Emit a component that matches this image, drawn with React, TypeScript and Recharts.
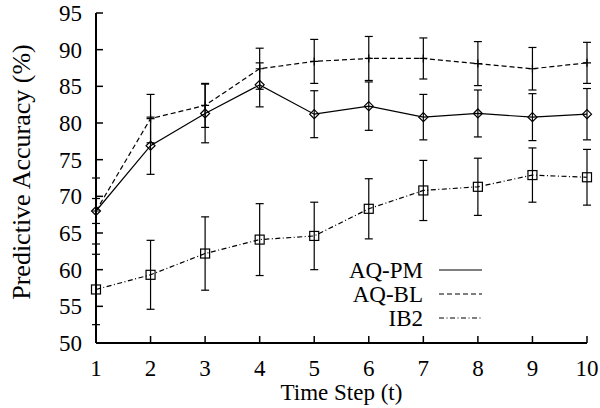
import React from "react"
import { LineChart, Line, XAxis, YAxis, ErrorBar } from "recharts"

const FONT = "'Liberation Serif', 'Times New Roman', serif"

const steps = [1, 2, 3, 4, 5, 6, 7, 8, 9, 10]
const yTicks = [50, 55, 60, 65, 70, 75, 80, 85, 90, 95]

const aqPm = [68, 76.9, 81.3, 85.2, 81.2, 82.3, 80.8, 81.3, 80.8, 81.2]
const aqPmErr = [4.5, 3.9, 4.0, 3.0, 3.2, 3.3, 3.1, 3.2, 3.2, 3.5]
const aqBl = [68, 80.6, 82.4, 87.4, 88.4, 88.8, 88.8, 88.1, 87.4, 88.2]
const aqBlErr = [1.7, 3.3, 3.0, 2.8, 3.0, 3.0, 2.8, 3.0, 2.9, 2.8]
const ib2 = [57.3, 59.3, 62.2, 64.1, 64.6, 68.3, 70.8, 71.3, 72.9, 72.6]
const ib2Err = [4.8, 4.7, 5.0, 4.9, 4.6, 4.1, 4.1, 3.9, 3.7, 3.8]

const rows = steps.map((s, i) => ({
  step: s,
  pm: aqPm[i],
  pmErr: aqPmErr[i],
  bl: aqBl[i],
  blErr: aqBlErr[i],
  ib: ib2[i],
  ibErr: ib2Err[i],
}))

const DASH_BL = "5 3"
const DASH_IB = "5 2.5 1 2.5"

const legendItems = [
  { name: "AQ-PM", dash: undefined },
  { name: "AQ-BL", dash: DASH_BL },
  { name: "IB2", dash: DASH_IB },
]

function diamond(props: any) {
  const { cx, cy, index } = props
  const r = 4.5
  return (
    <path key={`pm-${index}`} d={`M${cx} ${cy - r}L${cx + r} ${cy}L${cx} ${cy + r}L${cx - r} ${cy}Z`} fill="none" stroke="#000" strokeWidth={1.2} />
  )
}

function plus(props: any) {
  const { cx, cy, index } = props
  return (
    <path key={`bl-${index}`} d={`M${cx - 4} ${cy}H${cx + 4}M${cx} ${cy - 4}V${cy + 4}`} fill="none" stroke="#000" strokeWidth={1.2} />
  )
}

function square(props: any) {
  const { cx, cy, index } = props
  return <rect key={`ib-${index}`} x={cx - 4.5} y={cy - 4.5} width={9} height={9} fill="none" stroke="#000" strokeWidth={1.2} />
}

// rotated y title, a bit larger than the tick labels like in the original
function YTitle(props: any) {
  const vb = props.viewBox || { x: 0, y: 13, height: 330 }
  return (
    <text transform={`translate(${vb.x + 30}, ${vb.y + vb.height / 2 - 6}) rotate(-90)`} textAnchor="middle" fontSize={26} fill="#000" fontFamily={FONT}>
      Predictive Accuracy (%)
    </text>
  )
}

const axisLine = { stroke: "#000", strokeWidth: 2 }
const tickLine = { stroke: "#000", strokeWidth: 1.5 }
const tickStyle = { fill: "#000", fontSize: 23, fontFamily: FONT }

export default function App() {
  return (
    <div style={{ position: "relative", width: 600, height: 408, background: "#fff" }}>
      <style>{"body{margin:0}"}</style>
      <LineChart width={600} height={408} data={rows} margin={{ top: 13, right: 13, bottom: 0, left: 0 }} style={{ fontFamily: FONT }}>
        <XAxis
          dataKey="step"
          type="number"
          domain={[1, 10]}
          ticks={steps}
          interval={0}
          height={65}
          tickSize={-7}
          tickMargin={24}
          axisLine={axisLine}
          tickLine={tickLine}
          tick={tickStyle}
          label={{ value: "Time Step (t)", position: "insideBottom", offset: 8, fontSize: 23, fill: "#000", fontFamily: FONT }}
        />
        <XAxis xAxisId="top" orientation="top" dataKey="step" type="number" domain={[1, 10]} ticks={steps} interval={0} height={0} tickSize={-7} axisLine={axisLine} tickLine={tickLine} tick={false} />
        <YAxis
          type="number"
          domain={[50, 95]}
          ticks={yTicks}
          interval={0}
          width={96}
          tickSize={-7}
          tickMargin={21}
          axisLine={axisLine}
          tickLine={tickLine}
          tick={tickStyle}
          label={<YTitle />}
        />
        <YAxis yAxisId="right" orientation="right" type="number" domain={[50, 95]} ticks={yTicks} interval={0} width={0} tickSize={-7} axisLine={axisLine} tickLine={tickLine} tick={false} />
        <Line dataKey="bl" stroke="#000" strokeWidth={1.2} strokeDasharray={DASH_BL} dot={plus} activeDot={false} isAnimationActive={false}>
          <ErrorBar dataKey="blErr" width={4} stroke="#000" strokeWidth={1.2} isAnimationActive={false} />
        </Line>
        <Line dataKey="pm" stroke="#000" strokeWidth={1.2} dot={diamond} activeDot={false} isAnimationActive={false}>
          <ErrorBar dataKey="pmErr" width={4} stroke="#000" strokeWidth={1.2} isAnimationActive={false} />
        </Line>
        <Line dataKey="ib" stroke="#000" strokeWidth={1.2} strokeDasharray={DASH_IB} dot={square} activeDot={false} isAnimationActive={false}>
          <ErrorBar dataKey="ibErr" width={4} stroke="#000" strokeWidth={1.2} isAnimationActive={false} />
        </Line>
      </LineChart>
      <svg width={600} height={408} style={{ position: "absolute", left: 0, top: 0, pointerEvents: "none" }}>
        {legendItems.map((it, i) => (
          <g key={it.name}>
            <text x={423} y={278 + i * 24} textAnchor="end" fontSize={23} fill="#000" fontFamily={FONT}>
              {it.name}
            </text>
            <line x1={439} x2={482} y1={270 + i * 24} y2={270 + i * 24} stroke="#000" strokeWidth={1.2} strokeDasharray={it.dash} />
          </g>
        ))}
      </svg>
    </div>
  )
}
